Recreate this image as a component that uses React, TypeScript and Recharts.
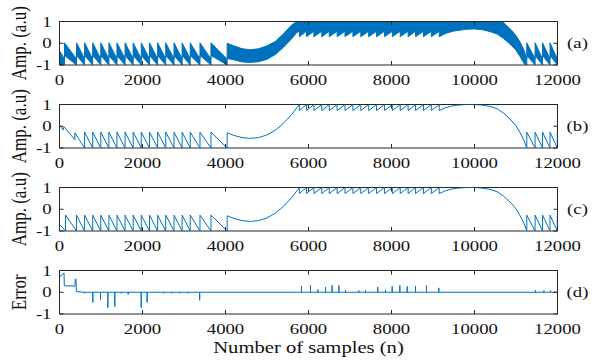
import React from 'react';
import { ComposedChart, Line, Area, XAxis, YAxis, ReferenceArea, Label } from 'recharts';

const BLUE = '#0072BD';
const INK = '#262626';
const TEXT = '#111111';
const FONT = '"Liberation Serif", "Times New Roman", serif';
const SX = 1.25;
const PLOT_H = 43.5;
const PLOT_W = 498;
const LEFT_W = 59.5;
const RIGHT_W = 42.5;
const TOPS = [21.5, 104.5, 187.5, 270.5];

// ---------- axes ----------
const X_TICKS = [0, 2000, 4000, 6000, 8000, 10000, 12000];
const Y_TICKS = [-1, 0, 1];

// ---------- shared tooth positions (samples) ----------
const LOW_TEETH = [605, 800, 995, 1190, 1385, 1580, 1775, 1970, 2170, 2365, 2560, 2760, 2955, 3150, 3385, 3650];
const HIGH_TEETH = [5780, 5950, 6130, 6320, 6500, 6690, 6880, 7070, 7260, 7450, 7640, 7830, 8020, 8210, 8400, 8580, 8770, 8960, 9150];
const END_TEETH = [11260, 11460, 11640, 11820, 11995];

// ---------- (b) estimated signal ----------
const bHeadX = [0, 40, 80, 110, 370, 370];
const bHeadY = [0.02, 0.0, -0.18, -0.03, -0.62, -0.3];
const valleyX = [4040, 4040, 4200, 4400, 4600, 4800, 5000, 5200, 5400, 5600, 5780];
const valleyY = [-1, -0.3, -0.42, -0.52, -0.56, -0.52, -0.4, -0.18, 0.14, 0.55, 1.0];
const domeX = [9300, 9450, 9600, 9800, 10000, 10200, 10400, 10550, 10700, 10880, 11000, 11100, 11200, 11260];
const domeY = [0.85, 0.93, 0.97, 1.0, 1.0, 0.97, 0.9, 0.8, 0.6, 0.29, 0.02, -0.3, -0.68, -1];
const tailX = [12000];
const tailY = [-0.29];

// ---------- (c) reference signal ----------
const cHeadX = [0, 145, 145, 410, 410];
const cHeadY = [-0.69, -1, -0.27, -1, -0.27];

// ---------- (a) noisy signal envelope [low, high] ----------
const aHeadX = [0, 120, 120, 410, 410];
const aHeadLo = [-1, -1, -0.56, -1, -0.56];
const aHeadHi = [-0.35, -0.72, 0.02, -0.72, 0.02];
const aValleyX = [4040, 4040, 4200, 4400, 4600, 4800, 5000, 5200, 5400, 5600, 5720, 5780];
const aValleyLo = [-1, -0.7, -0.76, -0.86, -0.88, -0.85, -0.74, -0.52, -0.18, 0.22, 0.5, 0.55];
const aValleyHi = [-0.72, 0.0, -0.12, -0.25, -0.3, -0.25, -0.12, 0.08, 0.44, 0.85, 1, 1];
const aDomeX = [9300, 9500, 9800, 10000, 10200, 10400, 10550, 10700, 10880, 11000, 11100, 11200, 11260];
const aDomeLo = [0.45, 0.56, 0.64, 0.66, 0.62, 0.52, 0.42, 0.22, -0.08, -0.32, -0.62, -0.95, -1];
const aDomeHi = [1, 1, 1, 1, 1, 1, 1, 0.95, 0.62, 0.35, 0.05, -0.35, -0.72];
const aTailX = [12000];
const aTailLo = [-0.98];
const aTailHi = [-0.05];

// ---------- (d) error ----------
const dHeadX = [0, 40, 80, 110, 115, 370, 380, 400, 405];
const dHeadY = [0.72, 0.76, 0.85, 0.88, 0.3, 0.28, 0.6, 0.6, 0.03];
const dSpikeX = [602, 803, 988, 1165, 1333, 1486, 1655, 1968, 2112, 2506, 2700, 2892, 3090, 3378, 5831, 6048, 6225, 6410, 6570, 6731, 6892, 7212, 7373, 7670, 7855, 8016, 8201, 8378, 8578, 8843, 9140, 11470, 11671, 11831];
const dSpikeV = [-0.05, -0.47, -0.36, -0.71, -0.66, -0.05, -0.1, -0.71, -0.47, -0.05, -0.05, -0.05, -0.05, -0.37, 0.27, 0.31, 0.12, 0.24, 0.31, 0.31, 0.1, 0.08, 0.08, 0.24, 0.1, 0.27, 0.31, 0.27, 0.27, 0.31, 0.2, 0.1, 0.08, 0.08];
const dBase = 0;

// ---------- table builders ----------
type Pt = { x: number; v: number | [number, number] };
const pairs = (xs: number[], ys: any[]): Pt[] => xs.map((x, i) => ({ x, v: ys[i] }));
const teeth = (xs: number[], before: any, after: any): Pt[] =>
  xs.flatMap((x) => [{ x, v: before }, { x, v: after }]);
const ranges = (xs: number[], lo: number[], hi: number[]): Pt[] =>
  xs.map((x, i) => ({ x, v: [lo[i], hi[i]] as [number, number] }));

const bData: Pt[] = [
  ...pairs(bHeadX, bHeadY),
  ...teeth(LOW_TEETH, -1, -0.27),
  ...pairs(valleyX, valleyY),
  ...teeth(HIGH_TEETH, 1, 0.72),
  ...pairs(domeX, domeY),
  ...teeth(END_TEETH, -1, -0.27),
  ...pairs(tailX, tailY),
];

const cData: Pt[] = [
  ...pairs(cHeadX, cHeadY),
  ...teeth(LOW_TEETH, -1, -0.27),
  ...pairs(valleyX, valleyY),
  ...teeth(HIGH_TEETH, 1, 0.72),
  ...pairs(domeX, domeY),
  ...teeth(END_TEETH, -1, -0.27),
  ...pairs(tailX, tailY),
];

const aData: Pt[] = [
  ...ranges(aHeadX, aHeadLo, aHeadHi),
  ...teeth(LOW_TEETH, [-1, -0.72], [-0.56, 0.02]),
  ...ranges(aValleyX, aValleyLo, aValleyHi),
  ...teeth(HIGH_TEETH, [0.55, 1], [0.3, 1]),
  ...ranges(aDomeX, aDomeLo, aDomeHi),
  ...teeth(END_TEETH, [-1, -0.72], [-0.56, 0.02]),
  ...ranges(aTailX, aTailLo, aTailHi),
];

const dData: Pt[] = [
  ...pairs(dHeadX, dHeadY),
  ...dSpikeX.flatMap((x, i) => [
    { x, v: dBase },
    { x, v: dSpikeV[i] },
    { x, v: dBase },
  ]),
  { x: 12000, v: dBase },
];

// ---------- custom ticks ----------
const XTick = (props: any) => {
  const { x, y, payload } = props;
  return (
    <g>
      <line x1={x} y1={y} x2={x} y2={y - 4} stroke={INK} strokeWidth={1} />
      <line x1={x} y1={y - PLOT_H} x2={x} y2={y - PLOT_H + 4} stroke={INK} strokeWidth={1} />
      <text
        transform={`translate(${x},${y + 20}) scale(${SX},1)`}
        textAnchor="middle"
        fontFamily={FONT}
        fontSize={15}
        fill={TEXT}
      >
        {payload.value}
      </text>
    </g>
  );
};

const YTick = (props: any) => {
  const { x, y, payload } = props;
  return (
    <g>
      <line x1={x} y1={y} x2={x + 4} y2={y} stroke={INK} strokeWidth={1} />
      <line x1={x + PLOT_W} y1={y} x2={x + PLOT_W - 4} y2={y} stroke={INK} strokeWidth={1} />
      <text
        transform={`translate(${x - 8},${y + 5}) scale(${SX},1)`}
        textAnchor="end"
        fontFamily={FONT}
        fontSize={15}
        fill={TEXT}
      >
        {payload.value}
      </text>
    </g>
  );
};

type PanelProps = {
  data: Pt[];
  top: number;
  kind: 'line' | 'area';
  yLabel: string;
  tag: string;
  xLabel?: string;
};

function Panel({ data, top, kind, yLabel, tag, xLabel }: PanelProps) {
  const bottom = top + PLOT_H;
  const xAxisH = xLabel ? 361 - bottom : 20;
  const marginBottom = 361 - bottom - xAxisH;
  return (
    <div style={{ position: 'absolute', left: 0, top: 0 }}>
      <ComposedChart
        width={600}
        height={361}
        data={data}
        margin={{ top, right: 0, bottom: marginBottom, left: 0 }}
      >
        <XAxis
          dataKey="x"
          type="number"
          domain={[0, 12000]}
          ticks={X_TICKS}
          interval={0}
          height={xAxisH}
          tickSize={0}
          tickMargin={0}
          tickLine={false}
          axisLine={false}
          allowDataOverflow
          tick={(p: any) => <XTick {...p} />}
        >
          {xLabel ? (
            <Label
              content={(p: any) => {
                const vb = p.viewBox;
                return (
                  <text
                    transform={`translate(${vb.x + vb.width / 2},${vb.y + 39}) scale(${SX},1)`}
                    textAnchor="middle"
                    fontFamily={FONT}
                    fontSize={16.5}
                    fill={TEXT}
                  >
                    {xLabel}
                  </text>
                );
              }}
            />
          ) : null}
        </XAxis>
        <YAxis
          yAxisId="l"
          type="number"
          domain={[-1, 1]}
          ticks={Y_TICKS}
          interval={0}
          width={LEFT_W}
          tickSize={0}
          tickMargin={0}
          tickLine={false}
          axisLine={false}
          allowDataOverflow
          tick={(p: any) => <YTick {...p} />}
        >
          <Label
            content={(p: any) => {
              const vb = p.viewBox;
              return (
                <text
                  transform={`translate(26,${vb.y + vb.height / 2}) scale(${SX},1) rotate(-90)`}
                  textAnchor="middle"
                  fontFamily={FONT}
                  fontSize={17}
                  fill={TEXT}
                >
                  {yLabel}
                </text>
              );
            }}
          />
        </YAxis>
        <YAxis
          yAxisId="r"
          orientation="right"
          type="number"
          domain={[-1, 1]}
          width={RIGHT_W}
          tick={false}
          tickLine={false}
          axisLine={false}
        >
          <Label
            content={(p: any) => {
              const vb = p.viewBox;
              return (
                <text
                  transform={`translate(${vb.x + 20},${vb.y + vb.height / 2 + 5}) scale(${SX},1)`}
                  textAnchor="middle"
                  fontFamily={FONT}
                  fontSize={15}
                  fill={TEXT}
                >
                  {tag}
                </text>
              );
            }}
          />
        </YAxis>
        {kind === 'area' ? (
          <Area
            yAxisId="l"
            dataKey="v"
            type="linear"
            stroke={BLUE}
            strokeWidth={1}
            fill={BLUE}
            fillOpacity={1}
            dot={false}
            activeDot={false}
            isAnimationActive={false}
          />
        ) : (
          <Line
            yAxisId="l"
            dataKey="v"
            type="linear"
            stroke={BLUE}
            strokeWidth={1}
            dot={false}
            activeDot={false}
            isAnimationActive={false}
          />
        )}
        <ReferenceArea
          yAxisId="l"
          x1={0}
          x2={12000}
          y1={-1}
          y2={1}
          fill="none"
          stroke={INK}
          strokeWidth={1}
          ifOverflow="visible"
        />
      </ComposedChart>
    </div>
  );
}

export default function App() {
  return (
    <div style={{ position: 'absolute', left: 0, top: 0, width: 600, height: 361, background: '#fff' }}>
      <Panel data={aData} top={TOPS[0]} kind="area" yLabel="Amp. (a.u)" tag="(a)" />
      <Panel data={bData} top={TOPS[1]} kind="line" yLabel="Amp. (a.u)" tag="(b)" />
      <Panel data={cData} top={TOPS[2]} kind="line" yLabel="Amp. (a.u)" tag="(c)" />
      <Panel data={dData} top={TOPS[3]} kind="line" yLabel="Error" tag="(d)" xLabel="Number of samples (n)" />
    </div>
  );
}
